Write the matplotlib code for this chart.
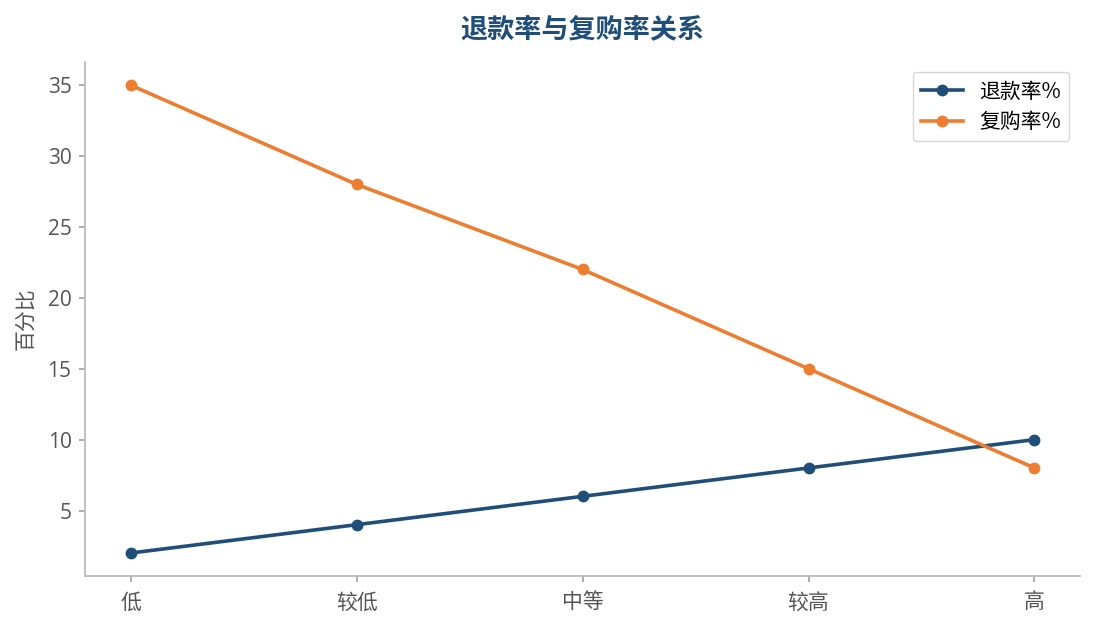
import matplotlib.pyplot as plt

plt.rcParams['font.family'] = ['Open Sans', 'Noto Sans CJK SC', 'DejaVu Sans']

categories = ['低', '较低', '中等', '较高', '高']
refund_rate = [2, 4, 6, 8, 10]
repurchase_rate = [35, 28, 22, 15, 8]

fig, ax = plt.subplots(figsize=(10.95, 6.3), dpi=100)

ax.plot(categories, refund_rate, marker='o', color='#1f4e79', linewidth=2.6,
        markersize=7.5, label='退款率%')
ax.plot(categories, repurchase_rate, marker='o', color='#ed7d31', linewidth=2.6,
        markersize=7.5, label='复购率%')

ax.set_title('退款率与复购率关系', fontsize=19.5, fontweight='bold', color='#1f4e79', pad=17,
             family=['Noto Sans CJK SC', 'DejaVu Sans'])
ax.set_ylabel('百分比', fontsize=15, color='#555555', labelpad=8,
              family=['Noto Sans CJK SC', 'DejaVu Sans'])

for side in ['top', 'right']:
    ax.spines[side].set_visible(False)
for side in ['left', 'bottom']:
    ax.spines[side].set_color('#bbbbbb')
    ax.spines[side].set_linewidth(1.3)
ax.tick_params(colors='#555555', labelsize=15)
ax.tick_params(axis='both', color='#999999', length=4.5, width=1.1)
ax.tick_params(axis='x', pad=7)
ax.tick_params(axis='y', pad=5.5)

leg = ax.legend(loc='upper right', prop={'family': ['Noto Sans CJK SC', 'DejaVu Sans'], 'size': 15},
                handlelength=2.0, borderpad=0.4, labelspacing=0.4)
leg.get_frame().set_edgecolor('#cccccc')

fig.subplots_adjust(left=0.078, right=0.986, top=0.902, bottom=0.085)
fig.savefig('out.png')
